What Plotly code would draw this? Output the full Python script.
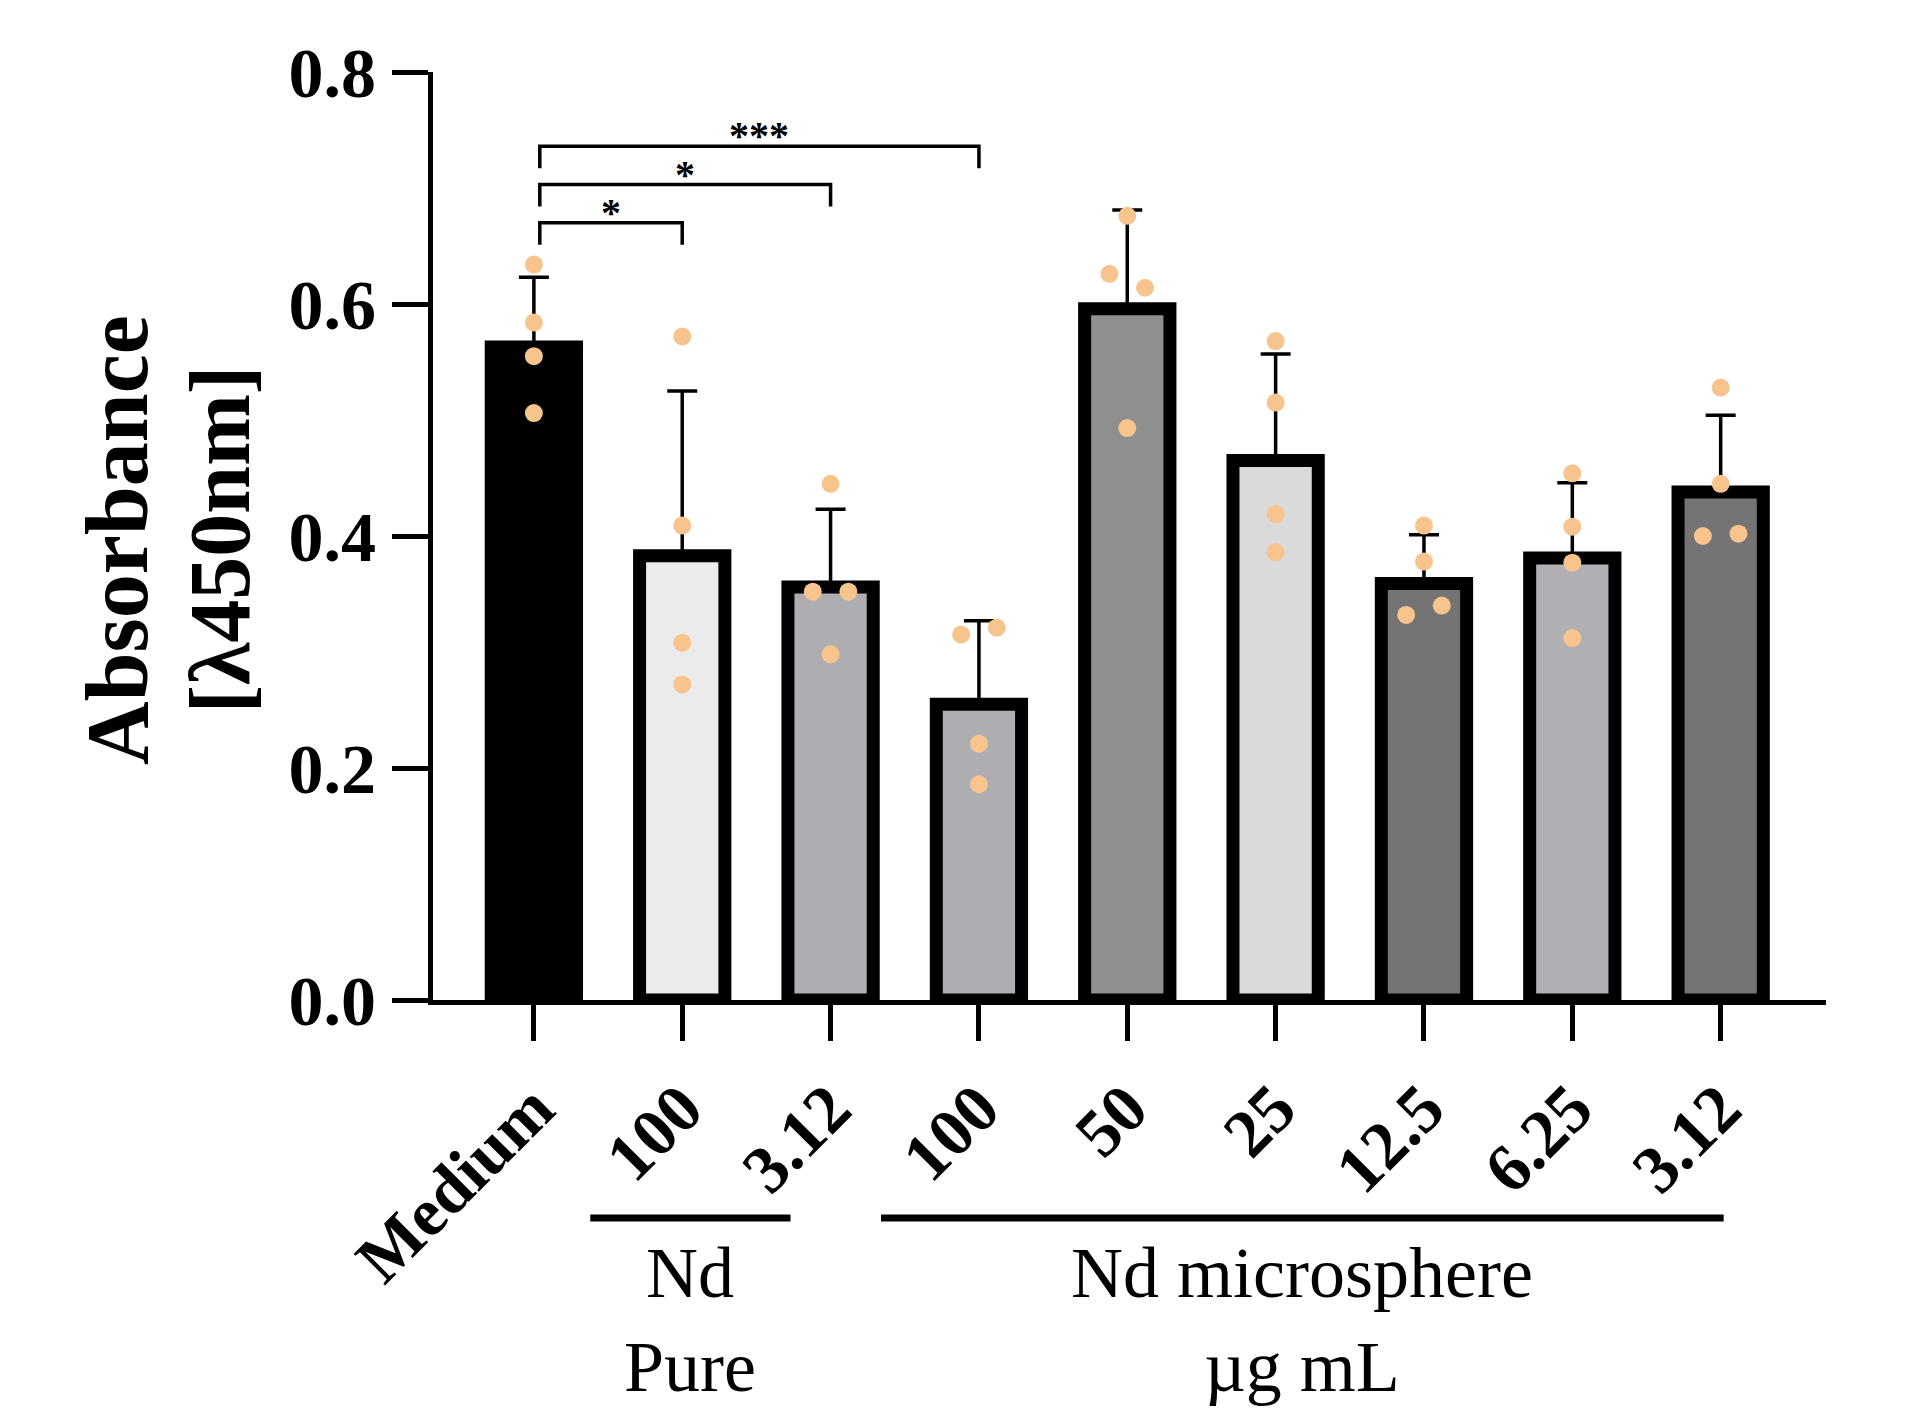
import plotly.graph_objects as go

# ---------------- data ----------------
tick_labels = ["Medium", "100", "3.12", "100", "50", "25", "12.5", "6.25", "3.12"]
means = [0.563, 0.383, 0.356, 0.255, 0.596, 0.465, 0.359, 0.381, 0.438]
sds = [0.060, 0.142, 0.067, 0.072, 0.085, 0.092, 0.042, 0.065, 0.066]
replicates = [
    [0.634, 0.584, 0.555, 0.506],
    [0.572, 0.409, 0.308, 0.272],
    [0.445, 0.352, 0.352, 0.298],
    [0.315, 0.321, 0.221, 0.186],
    [0.676, 0.626, 0.614, 0.493],
    [0.568, 0.515, 0.419, 0.386],
    [0.409, 0.378, 0.332, 0.340],
    [0.454, 0.408, 0.377, 0.312],
    [0.528, 0.445, 0.400, 0.402],
]
bar_colors = ["#000000", "#ebebeb", "#aeaeb2", "#aeaeb2", "#8f8f8f",
              "#dadada", "#747474", "#b0b0b4", "#747474"]
# significance comparisons: (from index, to index, label, height)
comparisons = [(0, 1, "*", 0.670), (0, 2, "*", 0.703), (0, 3, "***", 0.736)]
groups = [("Nd<br>Pure", 0.38, 1.73), ("Nd microsphere<br>µg mL", 2.34, 8.02)]

FONT = "Liberation Serif"
POINT_COLOR = "#f6c48c"

x_idx = list(range(len(means)))

# jitter only for replicate values that nearly coincide
px, py = [], []
for i, vals in enumerate(replicates):
    for j, v in enumerate(vals):
        close = [k for k, w in enumerate(vals) if k != j and abs(w - v) < 0.02]
        if close:
            off = -0.12 if all(j < k for k in close) else 0.12
        else:
            off = 0.0
        px.append(i + off)
        py.append(v)

fig = go.Figure()
fig.add_trace(go.Bar(
    x=x_idx, y=means, width=0.575,
    marker=dict(color=bar_colors, line=dict(color="black", width=13)),
    error_y=dict(type="data", symmetric=False, array=sds,
                 arrayminus=[0] * len(sds), color="black",
                 thickness=3.5, width=15),
    showlegend=False, hoverinfo="skip",
))
fig.add_trace(go.Scatter(
    x=px, y=py, mode="markers",
    marker=dict(size=18, color=POINT_COLOR),
    showlegend=False, hoverinfo="skip",
))

shapes = []
annotations = []
for a, b, lab, yv in comparisons:
    xa = a + 0.04
    leg = 0.019
    shapes.append(dict(type="path", xref="x", yref="y",
                       path=f"M {xa},{yv - leg} L {xa},{yv} L {b},{yv} L {b},{yv - leg}",
                       line=dict(color="black", width=3.5)))
    annotations.append(dict(x=(xa + b) / 2, y=yv, xref="x", yref="y",
                            text=lab, showarrow=False, yanchor="bottom",
                            yshift=-14,
                            font=dict(family=FONT, size=40, color="black",
                                      weight="bold")))

for lab, x0, x1 in groups:
    shapes.append(dict(type="line", xref="x", yref="paper", x0=x0, x1=x1,
                       y0=-0.235, y1=-0.235, line=dict(color="black", width=7)))
    annotations.append(dict(x=(x0 + x1) / 2, y=-0.345, xref="x", yref="paper",
                            text=lab, showarrow=False, yanchor="middle",
                            font=dict(family=FONT, size=72, color="black")))

annotations.append(dict(x=-0.226, y=0.496, xref="paper", yref="paper",
                        xanchor="center", yanchor="middle",
                        text="Absorbance", textangle=-90, showarrow=False,
                        font=dict(family=FONT, size=88, color="black",
                                  weight="bold")))
annotations.append(dict(x=-0.153, y=0.496, xref="paper", yref="paper",
                        xanchor="center", yanchor="middle",
                        text="[λ450nm]", textangle=-90, showarrow=False,
                        font=dict(family=FONT, size=86, color="black",
                                  weight="bold")))

fig.update_layout(
    width=1913, height=1421,
    margin=dict(l=433, r=87, t=72, b=421),
    paper_bgcolor="white", plot_bgcolor="white",
    font=dict(family=FONT, color="black"),
    shapes=shapes, annotations=annotations,
)
fig.update_xaxes(
    range=[-0.68, 8.71], tickvals=x_idx, ticktext=tick_labels,
    tickangle=-45, ticks="outside", ticklen=36, tickwidth=5,
    tickcolor="black", showline=True, linewidth=5, linecolor="black",
    showgrid=False, zeroline=False, ticklabelstandoff=0,
    tickfont=dict(family=FONT, size=68, color="black", weight="bold"),
)
fig.update_yaxes(
    range=[0, 0.8], tickvals=[0, 0.2, 0.4, 0.6, 0.8], tickformat=".1f",
    ticks="outside", ticklen=36, tickwidth=5, tickcolor="black",
    showline=True, linewidth=5, linecolor="black",
    showgrid=False, zeroline=False, ticklabelstandoff=2,
    tickfont=dict(family=FONT, size=70, color="black", weight="bold"),
)

fig.write_html("out.html")
